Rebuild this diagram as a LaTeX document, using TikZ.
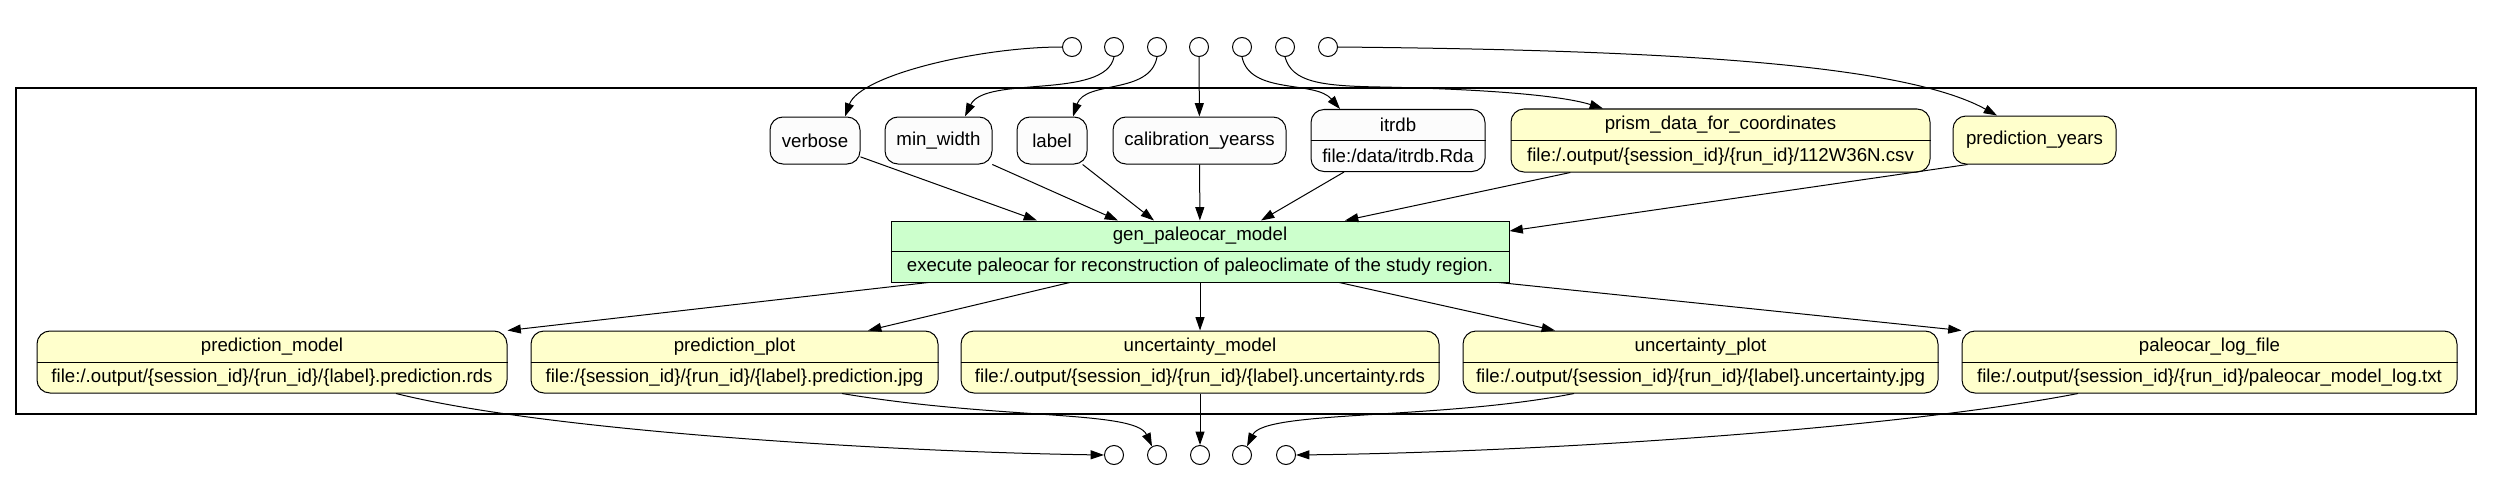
\documentclass[tikz,border=0pt]{standalone}
\usepackage{fontspec}
\setmainfont{Liberation Sans}
\usetikzlibrary{arrows.meta,calc}
\definecolor{nodeyellow}{HTML}{FFFFCC}
\definecolor{nodegreen}{HTML}{CCFFCC}
\definecolor{nodewhite}{HTML}{FCFCFC}
\begin{document}
\begin{tikzpicture}[x=0.75pt,y=-0.75pt,
  every node/.style={font=\fontsize{14}{16}\selectfont},
  sz/.style 2 args={minimum width=#1*0.75pt, minimum height=#2*0.75pt},
  box/.style={draw=black, line width=0.75pt, rounded corners=9.75pt, inner sep=0pt},
  wbox/.style={box, fill=nodewhite},
  ybox/.style={box, fill=nodeyellow},
  procbox/.style={draw=black, line width=0.75pt, fill=nodegreen, inner sep=0pt},
  port/.style={draw=black, circle, minimum size=14.25pt, inner sep=0pt, line width=0.75pt, fill=white},
  divider/.style={draw=black, line width=0.75pt},
  flow/.style={draw=black, line width=0.75pt, -{Triangle[length=10pt,width=6.7pt]}},
  cluster/.style={draw=black, line width=1.5pt}]
\useasboundingbox (0,0) rectangle (2495,503);
\draw[cluster] (16,88) rectangle (2476,414);

% top ports
\foreach \i/\x in {1/1072,2/1114,3/1157,4/1199,5/1242,6/1285,7/1328}
  \node[port] (p\i) at (\x,47) {};
% bottom ports
\foreach \i/\x in {1/1114,2/1157,3/1200,4/1242,5/1286}
  \node[port] (q\i) at (\x,455) {};

% inputs
\node[wbox, sz={90}{47}] (verbose) at (815,140.5) {verbose};
\node[wbox, sz={107}{47}] (minwidth) at (938.5,140.5) {min\_width};
\node[wbox, sz={70}{47}] (label) at (1052,140.5) {label};
\node[wbox, sz={173}{47}] (calib) at (1199.5,140.5) {calibration\_yearss};
\node[wbox, sz={174}{62}] (itrdb) at (1398,140.5) {};
\node (itrdb-t) at ($(itrdb.north)!0.25!(itrdb.south)$) {itrdb};
\node (itrdb-f) at ($(itrdb.north)!0.75!(itrdb.south)$) {file:/data/itrdb.Rda};
\draw[divider] (itrdb.west) -- (itrdb.east);
\node[ybox, sz={419}{63}] (prism) at (1720.5,140.5) {};
\node (prism-t) at ($(prism.north)!0.25!(prism.south)$) {prism\_data\_for\_coordinates};
\node (prism-f) at ($(prism.north)!0.75!(prism.south)$) {file:/.output/\{session\_id\}/\{run\_id\}/112W36N.csv};
\draw[divider] (prism.west) -- (prism.east);
\node[ybox, sz={163}{48}] (pyears) at (2034.5,140) {prediction\_years};

% process
\node[procbox, sz={618}{61}] (gen) at (1200,251.5) {};
\node (gen-t) at ($(gen.north)!0.25!(gen.south)$) {gen\_paleocar\_model};
\node (gen-d) at ($(gen.north)!0.75!(gen.south)$) {execute paleocar for reconstruction of paleoclimate of the study region.};
\draw[divider] (gen.west) -- (gen.east);

% outputs
\node[ybox, sz={470}{62}] (pmodel) at (272,362) {};
\node (pmodel-t) at ($(pmodel.north)!0.25!(pmodel.south)$) {prediction\_model};
\node (pmodel-f) at ($(pmodel.north)!0.75!(pmodel.south)$) {file:/.output/\{session\_id\}/\{run\_id\}/\{label\}.prediction.rds};
\draw[divider] (pmodel.west) -- (pmodel.east);

\node[ybox, sz={407}{62}] (pplot) at (734.5,362) {};
\node (pplot-t) at ($(pplot.north)!0.25!(pplot.south)$) {prediction\_plot};
\node (pplot-f) at ($(pplot.north)!0.75!(pplot.south)$) {file:/\{session\_id\}/\{run\_id\}/\{label\}.prediction.jpg};
\draw[divider] (pplot.west) -- (pplot.east);

\node[ybox, sz={478}{62}] (umodel) at (1200,362) {};
\node (umodel-t) at ($(umodel.north)!0.25!(umodel.south)$) {uncertainty\_model};
\node (umodel-f) at ($(umodel.north)!0.75!(umodel.south)$) {file:/.output/\{session\_id\}/\{run\_id\}/\{label\}.uncertainty.rds};
\draw[divider] (umodel.west) -- (umodel.east);

\node[ybox, sz={475}{62}] (uplot) at (1700.5,362) {};
\node (uplot-t) at ($(uplot.north)!0.25!(uplot.south)$) {uncertainty\_plot};
\node (uplot-f) at ($(uplot.north)!0.75!(uplot.south)$) {file:/.output/\{session\_id\}/\{run\_id\}/\{label\}.uncertainty.jpg};
\draw[divider] (uplot.west) -- (uplot.east);

\node[ybox, sz={495}{62}] (plog) at (2209.5,362) {};
\node (plog-t) at ($(plog.north)!0.25!(plog.south)$) {paleocar\_log\_file};
\node (plog-f) at ($(plog.north)!0.75!(plog.south)$) {file:/.output/\{session\_id\}/\{run\_id\}/paleocar\_model\_log.txt};
\draw[divider] (plog.west) -- (plog.east);

% top ports to inputs
\draw[flow] (p1.west) .. controls (980,47) and (860,75) .. ($(verbose.north)+(30,0)$);
\draw[flow] (p2.south) .. controls (1105,100) and (985,75) .. ($(minwidth.north)+(26.5,0)$);
\draw[flow] (p3.south) .. controls (1150,95) and (1085,80) .. ($(label.north)+(21,0)$);
\draw[flow] (p4) -- (calib);
\draw[flow] (p5.south) .. controls (1250,95) and (1315,80) .. ($(itrdb.north)+(-58,0)$);
\draw[flow] (p6.south) .. controls (1292,82) and (1320,86) .. (1380,87) .. controls (1480,89) and (1560,95) .. ($(prism.north)+(-117.5,0)$);
\draw[flow] (p7.east) .. controls (1650,50) and (1900,62) .. ($(pyears.north)+(-37.5,0)$);

% inputs to process
\draw[flow] (verbose) -- ($(gen.north)+(-163,0)$);
\draw[flow] (minwidth) -- ($(gen.north)+(-82,0)$);
\draw[flow] (label) -- ($(gen.north)+(-46,0)$);
\draw[flow] (calib) -- (gen);
\draw[flow] (itrdb) -- ($(gen.north)+(61,0)$);
\draw[flow] (prism) -- ($(gen.north)+(145,0)$);
\draw[flow] ($(pyears.south west)+(15,0)$) -- ($(gen.east)+(0,-20.5)$);

% process to outputs
\draw[flow] (gen) -- (pmodel.north east);
\draw[flow] (gen) -- ($(pplot.north)+(133.5,0)$);
\draw[flow] (gen) -- (umodel);
\draw[flow] (gen) -- ($(uplot.north)+(-145.5,0)$);
\draw[flow] (gen) -- (plog.north west);

% outputs to bottom ports
\draw[flow] ($(pmodel.south)+(124,0)$) .. controls (550,432) and (900,452) .. (q1.west);
\draw[flow] ($(pplot.south)+(107.5,0)$) .. controls (1000,420) and (1135,410) .. (q2.120);
\draw[flow] (umodel) -- (q3);
\draw[flow] ($(uplot.south)+(-126.5,0)$) .. controls (1440,420) and (1265,410) .. (q4.60);
\draw[flow] ($(plog.south)+(-131.5,0)$) .. controls (1900,428) and (1550,452) .. (q5.east);
\end{tikzpicture}
\end{document}
